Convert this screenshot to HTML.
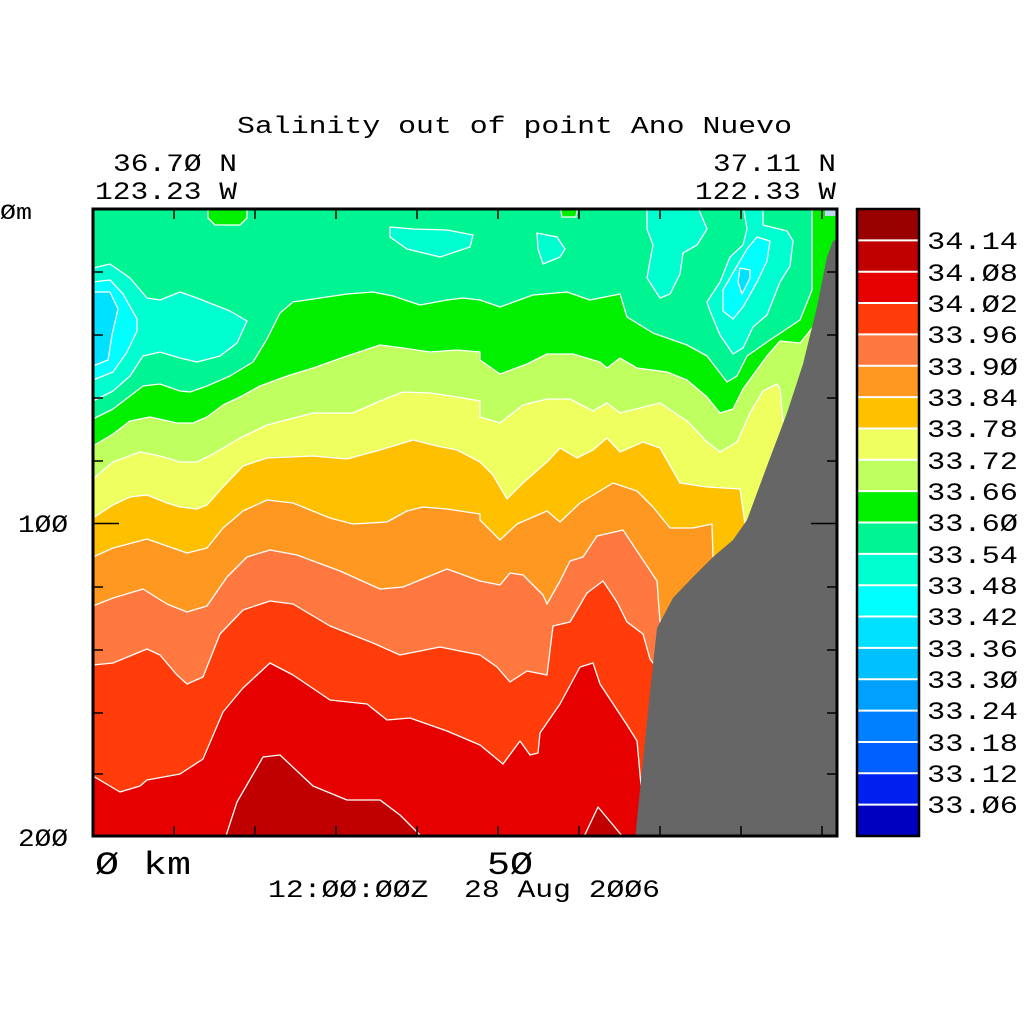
<!DOCTYPE html>
<html><head><meta charset="utf-8"><style>
html,body{margin:0;padding:0;background:#fff;width:1024px;height:1024px;overflow:hidden}
text{font-family:"Liberation Mono","DejaVu Sans Mono",monospace;fill:#000}
</style></head><body>
<svg width="1024" height="1024" viewBox="0 0 1024 1024" xmlns="http://www.w3.org/2000/svg">
<defs><clipPath id="c"><rect x="93" y="209" width="744" height="627"/></clipPath></defs>
<g clip-path="url(#c)" stroke="#fff" stroke-width="1.3" stroke-linejoin="round">
<rect x="93" y="209" width="744" height="627" fill="#00f592" stroke="none"/>
<polygon fill="#00ffd0" points="93,268 110,264 130,278 147,298 160,300 180,292 197,298 230,311 247,321 237,343 220,356 197,362 180,358 160,352 143,356 130,376 113,391 93,401"/>
<polygon fill="#00ffff" points="93,282 110,280 123,294 137,319 137,331 127,352 113,372 93,380"/>
<polygon fill="#00e0ff" points="93,292 110,292 118,309 112,335 108,360 93,366"/>
<polygon fill="#00ffd0" points="390,227 413,229 447,230 473,235 470,247 440,257 407,249 390,237"/>
<polygon fill="#00f000" points="208,205 247,205 247,218 240,225 215,225 208,218"/>
<polygon fill="#00ffd0" points="537,233 557,237 565,249 560,257 543,264 538,249"/>
<polygon fill="#00f000" points="560,205 578,205 576,217 562,217"/>
<polygon fill="#00ffd0" points="647,205 697,205 707,229 697,245 683,253 680,274 670,294 660,298 647,278 650,261 653,245 647,229"/>
<polygon fill="#00ffd0" points="743,205 763,205 763,225 787,231 793,241 790,266 780,282 767,315 753,327 743,348 733,354 720,335 710,311 707,302 720,282 730,257 743,245 747,229"/>
<polygon fill="#00ffff" points="757,237 770,241 767,261 757,282 743,307 733,319 723,311 723,290 737,266 747,249"/>
<polygon fill="#00e0ff" points="740,268 750,270 750,278 742,294 738,282"/>
<path fill="#00f000" d="M93,419 L113,409 143,386 160,384 180,391 190,392 207,386 230,376 253,362 267,339 280,313 293,302 320,298 347,294 373,292 393,296 420,305 447,300 463,298 480,300 500,307 533,295 567,292 590,300 620,294 627,317 653,333 687,345 707,356 727,382 737,376 747,356 770,340 800,320 812,290 812,205 L840,205 840,840 90,840 90,419Z"/>
<path fill="#c0ff60" d="M93,446 L113,434 130,421 150,417 177,423 193,423 207,417 223,405 240,397 260,386 287,376 313,368 347,356 380,345 403,348 430,352 457,350 480,352 480,360 500,374 527,364 547,354 573,354 600,362 607,368 620,358 637,368 667,372 687,380 707,397 720,413 733,409 743,389 767,356 780,341 800,343 813,327 830,290 L840,290 840,840 90,840 90,446Z"/>
<path fill="#f0ff60" d="M93,479 L113,462 140,452 160,456 180,462 197,462 213,454 240,438 267,425 313,413 353,413 380,401 403,392 430,393 457,397 480,401 480,417 500,423 523,405 547,399 570,399 593,411 607,403 620,413 660,403 687,421 707,442 720,452 737,442 750,413 763,391 777,384 780,389 783,421 L840,421 840,840 90,840 90,479Z"/>
<path fill="#ffc000" d="M93,518 L113,505 130,497 147,495 167,503 180,507 197,509 207,505 223,487 243,466 267,458 313,456 347,459 380,450 413,440 437,446 457,450 480,462 493,475 507,499 523,483 547,462 560,448 577,458 593,450 607,438 620,452 643,442 660,448 680,483 707,487 740,489 745,524 L840,524 840,840 90,840 90,518Z"/>
<path fill="#ff9820" d="M93,557 L113,548 147,539 167,546 187,553 207,548 223,528 243,511 267,500 293,503 330,518 353,524 387,522 407,511 423,507 447,509 480,514 480,520 500,540 517,524 547,511 560,522 580,503 613,483 637,491 653,507 670,528 693,528 712,524 713,557 L840,557 840,840 90,840 90,557Z"/>
<path fill="#ff7840" d="M93,606 L113,598 143,589 167,604 187,612 207,606 227,577 247,557 270,550 297,555 340,571 380,589 403,587 447,569 480,581 500,585 510,573 523,575 543,595 547,604 560,581 570,561 583,557 597,536 623,530 657,581 660,622 L840,622 840,840 90,840 90,606Z"/>
<path fill="#ff3c0a" d="M93,665 L113,663 147,649 160,655 177,675 187,684 203,677 220,634 243,610 270,601 293,604 330,626 373,643 400,655 440,647 480,655 497,667 510,682 527,671 547,675 553,626 570,622 587,593 603,581 617,602 627,622 643,634 650,659 653,663 L840,663 840,840 90,840 90,665Z"/>
<path fill="#e60000" d="M93,776 L120,792 140,786 147,780 180,774 203,759 223,712 243,688 270,663 293,675 330,700 367,704 387,720 410,718 447,731 480,745 503,764 520,741 530,755 538,753 540,733 560,704 580,667 593,663 600,684 627,725 637,741 643,807 645,845 L90,845 90,776Z"/>
<path fill="#c00000" d="M223,845 L237,802 263,757 280,755 313,786 347,800 380,800 400,815 420,835 430,845Z"/>
<path fill="#c00000" d="M580,845 L598,807 623,837 625,845Z"/>
<polygon fill="#b8d8f0" stroke="none" points="825,209 837,209 837,216 825,216"/>
<polygon fill="#666" stroke="none" points="635,840 640,790 650,692 657,628 673,598 693,577 713,557 733,540 747,520 767,466 787,413 803,364 817,307 827,257 833,241 840,238 840,840"/>
</g>
<rect x="93" y="209" width="744" height="627" fill="none" stroke="#000" stroke-width="3"/>
<g stroke="#000" stroke-width="1.5">
<path d="M174,209v10M255,209v10M336,209v10M417,209v10M498,209v10M579,209v10M660,209v10M741,209v10M822,209v10"/>
<path d="M174,836v-10M255,836v-10M336,836v-10M417,836v-10M498,836v-10M579,836v-10M660,836v-10M741,836v-10M822,836v-10"/>
<path d="M93,272h10M93,335h10M93,398h10M93,461h10M93,523.5h26M93,587h10M93,650h10M93,713h10M93,774h10"/>
<path d="M837,272h-10M837,335h-10M837,398h-10M837,461h-10M837,523.5h-26M837,587h-10M837,650h-10M837,713h-10M837,774h-10"/>
</g>
<g stroke="none">
<rect x="857" y="209" width="62" height="32" fill="#990000"/>
<rect x="857" y="240.35" width="62" height="32" fill="#c00000"/>
<rect x="857" y="271.7" width="62" height="32" fill="#e60000"/>
<rect x="857" y="303.05" width="62" height="32" fill="#ff3c0a"/>
<rect x="857" y="334.4" width="62" height="32" fill="#ff7840"/>
<rect x="857" y="365.75" width="62" height="32" fill="#ff9820"/>
<rect x="857" y="397.1" width="62" height="32" fill="#ffc000"/>
<rect x="857" y="428.45" width="62" height="32" fill="#f0ff60"/>
<rect x="857" y="459.8" width="62" height="32" fill="#c0ff60"/>
<rect x="857" y="491.15" width="62" height="32" fill="#00f000"/>
<rect x="857" y="522.5" width="62" height="32" fill="#00f592"/>
<rect x="857" y="553.85" width="62" height="32" fill="#00ffd0"/>
<rect x="857" y="585.2" width="62" height="32" fill="#00ffff"/>
<rect x="857" y="616.55" width="62" height="32" fill="#00e0ff"/>
<rect x="857" y="647.9" width="62" height="32" fill="#00c0ff"/>
<rect x="857" y="679.25" width="62" height="32" fill="#00a0ff"/>
<rect x="857" y="710.6" width="62" height="32" fill="#0080ff"/>
<rect x="857" y="741.95" width="62" height="32" fill="#0060ff"/>
<rect x="857" y="773.3" width="62" height="32" fill="#0020f0"/>
<rect x="857" y="804.65" width="62" height="31.35" fill="#0000c0"/>
</g>
<g stroke="#fff" stroke-width="2">
<path d="M858,240.35h60M858,271.7h60M858,303.05h60M858,334.4h60M858,365.75h60M858,397.1h60M858,428.45h60M858,459.8h60M858,491.15h60M858,522.5h60M858,553.85h60M858,585.2h60M858,616.55h60M858,647.9h60M858,679.25h60M858,710.6h60M858,741.95h60M858,773.3h60M858,804.65h60"/>
</g>
<rect x="857" y="209" width="62" height="627" fill="none" stroke="#000" stroke-width="2.5"/>
<g font-size="25">
<text x="927" y="249" textLength="91" lengthAdjust="spacingAndGlyphs">34.14</text>
<text x="927" y="281" textLength="91" lengthAdjust="spacingAndGlyphs">34.Ø8</text>
<text x="927" y="312" textLength="91" lengthAdjust="spacingAndGlyphs">34.Ø2</text>
<text x="927" y="343" textLength="91" lengthAdjust="spacingAndGlyphs">33.96</text>
<text x="927" y="375" textLength="91" lengthAdjust="spacingAndGlyphs">33.9Ø</text>
<text x="927" y="406" textLength="91" lengthAdjust="spacingAndGlyphs">33.84</text>
<text x="927" y="437" textLength="91" lengthAdjust="spacingAndGlyphs">33.78</text>
<text x="927" y="469" textLength="91" lengthAdjust="spacingAndGlyphs">33.72</text>
<text x="927" y="500" textLength="91" lengthAdjust="spacingAndGlyphs">33.66</text>
<text x="927" y="531" textLength="91" lengthAdjust="spacingAndGlyphs">33.6Ø</text>
<text x="927" y="563" textLength="91" lengthAdjust="spacingAndGlyphs">33.54</text>
<text x="927" y="594" textLength="91" lengthAdjust="spacingAndGlyphs">33.48</text>
<text x="927" y="625" textLength="91" lengthAdjust="spacingAndGlyphs">33.42</text>
<text x="927" y="657" textLength="91" lengthAdjust="spacingAndGlyphs">33.36</text>
<text x="927" y="688" textLength="91" lengthAdjust="spacingAndGlyphs">33.3Ø</text>
<text x="927" y="719" textLength="91" lengthAdjust="spacingAndGlyphs">33.24</text>
<text x="927" y="751" textLength="91" lengthAdjust="spacingAndGlyphs">33.18</text>
<text x="927" y="782" textLength="91" lengthAdjust="spacingAndGlyphs">33.12</text>
<text x="927" y="813" textLength="91" lengthAdjust="spacingAndGlyphs">33.Ø6</text>
</g>
<text x="237" y="133" font-size="24" textLength="555" lengthAdjust="spacingAndGlyphs">Salinity out of point Ano Nuevo</text>
<text x="113" y="171" font-size="25" textLength="124" lengthAdjust="spacingAndGlyphs">36.7Ø N</text>
<text x="95" y="199" font-size="25" textLength="142" lengthAdjust="spacingAndGlyphs">123.23 W</text>
<text x="713" y="171" font-size="25" textLength="123" lengthAdjust="spacingAndGlyphs">37.11 N</text>
<text x="695" y="199" font-size="25" textLength="141" lengthAdjust="spacingAndGlyphs">122.33 W</text>
<text x="0" y="219" font-size="22" textLength="32" lengthAdjust="spacingAndGlyphs">Øm</text>
<text x="18" y="532" font-size="25" textLength="50" lengthAdjust="spacingAndGlyphs">1ØØ</text>
<text x="18" y="846" font-size="25" textLength="50" lengthAdjust="spacingAndGlyphs">2ØØ</text>
<text x="95" y="874" font-size="32" textLength="96" lengthAdjust="spacingAndGlyphs">Ø km</text>
<text x="487" y="874" font-size="32" textLength="46" lengthAdjust="spacingAndGlyphs">5Ø</text>
<text x="268" y="897" font-size="25" textLength="392" lengthAdjust="spacingAndGlyphs">12:ØØ:ØØZ&#160; 28 Aug 2ØØ6</text>
</svg>
</body></html>
